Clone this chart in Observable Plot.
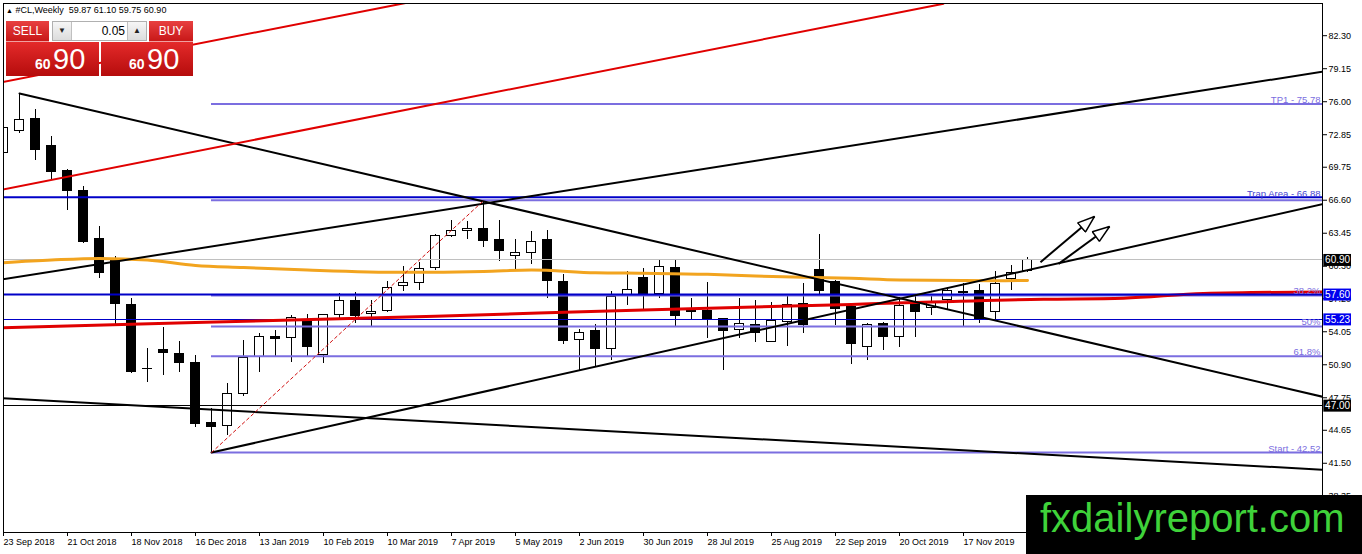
<!DOCTYPE html>
<html><head><meta charset="utf-8">
<script src="https://cdn.jsdelivr.net/npm/d3@7"></script>
<script src="https://cdn.jsdelivr.net/npm/@observablehq/plot@0.6"></script>
<style>
body{margin:0;background:#fff;}
#wrap{position:relative;width:1362px;height:554px;overflow:hidden;font-family:"Liberation Sans",Arial,sans-serif;}
#chart{position:absolute;left:0;top:0;}
#info{position:absolute;left:6px;top:5px;font-size:9px;color:#000;white-space:pre;line-height:11px;}
#info .tri{font-size:7px;}
.btn{position:absolute;top:21px;height:20px;background:linear-gradient(#e84040,#c81818);color:#fff;font-size:12px;text-align:center;line-height:20px;border-bottom:1px solid #f0a0a0;}
#sell{left:6px;width:43px;}
#buy{left:149px;width:44px;}
#spin{position:absolute;left:52px;top:21px;width:95px;height:20px;background:#e8e8e8;border:1px solid #b0b0b0;box-sizing:border-box;}
#spin .dn,#spin .up{position:absolute;top:0;width:18px;height:18px;font-size:8px;line-height:18px;text-align:center;color:#222;background:linear-gradient(#f6f6f6,#dcdcdc);}
#spin .dn{left:0;border-right:1px solid #c0c0c0;}
#spin .up{right:0;border-left:1px solid #c0c0c0;}
#spin .fld{position:absolute;left:19px;right:19px;top:0;height:18px;background:#fff;font-size:12px;line-height:18px;text-align:right;padding-right:2px;color:#000;}
.big{position:absolute;top:42px;height:34px;background:linear-gradient(#e42a2a,#b50c0c);color:#fff;}
#bigL{left:6px;width:93px;}
#bigR{left:101px;width:92px;}
.big .s{position:absolute;font-size:14px;font-weight:bold;line-height:14px;top:15px;}
.big .b{position:absolute;font-size:29px;line-height:29px;top:3px;}
#wm{position:absolute;left:1026px;top:495px;width:336px;height:59px;background:#000;}
#wm span{position:absolute;left:14px;top:3px;font-size:40px;line-height:40px;color:#3fd23a;white-space:nowrap;}
</style></head><body>
<div id="wrap">
<div id="chart"></div>
<div id="info"><span class="tri">▲</span> #CL,Weekly  59.87 61.10 59.75 60.90</div>
<div class="btn" id="sell">SELL</div>
<div id="spin"><div class="dn">▼</div><div class="fld">0.05</div><div class="up">▲</div></div>
<div class="btn" id="buy">BUY</div>
<div class="big" id="bigL"><span class="s" style="left:29px">60</span><span class="b" style="left:47px">90</span></div>
<div class="big" id="bigR"><span class="s" style="left:28px">60</span><span class="b" style="left:46px">90</span></div>
<div id="wm"><span>fxdailyreport.com</span></div>
</div>
<script>
// ---- weekly OHLC, bar index 0 = week of 23 Sep 2018 ----
const opens  = [71.14,73.17,74.38,71.80,69.35,67.51,62.93,60.83,56.63,50.53,52.34,51.93,51.07,45.31,45.06,48.11,51.60,53.58,53.45,55.04,51.83,55.65,57.01,55.74,56.06,58.42,58.70,60.10,63.19,63.63,63.88,62.81,61.28,61.57,62.83,58.83,53.26,54.15,52.40,57.49,59.21,57.65,60.13,56.06,56.06,55.27,54.25,54.72,53.10,54.94,56.70,59.97,58.76,56.37,52.56,54.79,53.51,56.70,56.32,57.08,57.87,57.90,55.90,59.08,59.87];
const highs  = [74.19,76.79,75.21,72.66,69.58,67.89,64.10,61.21,57.27,52.46,54.47,53.10,51.77,46.76,49.11,53.20,53.84,54.15,55.58,55.68,55.74,57.71,57.75,57.08,58.83,60.26,60.67,63.31,64.71,64.55,66.49,64.65,62.81,63.60,63.69,59.56,54.31,54.72,57.90,59.81,60.13,60.83,60.83,57.18,58.76,55.36,57.18,57.01,56.85,57.65,58.61,63.31,58.92,56.54,54.85,54.91,57.33,57.40,57.65,58.23,58.61,58.54,59.78,60.35,61.10];
const lows   = [70.75,72.92,70.37,68.56,65.60,62.48,59.14,54.63,50.02,49.22,49.86,50.17,44.92,42.52,44.13,47.85,50.17,51.67,51.13,51.67,51.03,55.36,54.85,54.53,55.90,57.90,58.03,59.94,63.00,62.86,62.10,60.76,59.88,60.45,57.18,52.88,50.40,50.65,51.29,56.54,56.15,57.18,54.47,55.11,53.45,50.40,53.45,53.03,52.98,52.65,53.84,57.42,54.63,50.91,51.29,52.24,52.56,53.51,55.58,56.13,54.47,54.85,55.11,57.97,59.75];
const closes = [73.52,74.26,71.36,69.26,67.44,62.64,59.69,56.66,50.17,50.46,51.99,51.03,45.25,44.92,48.11,51.51,53.58,53.32,55.32,52.56,55.68,57.01,55.58,55.96,58.23,58.70,60.04,63.22,63.69,63.86,62.67,61.72,61.59,62.61,58.86,53.20,53.93,52.40,57.33,58.03,57.59,60.19,55.52,55.92,55.17,54.15,54.79,53.89,55.04,56.63,54.69,57.90,56.25,52.88,54.69,53.51,56.54,55.90,56.76,57.90,57.71,55.27,58.61,59.62,60.90];

// ---- axes ----
const yTicks = [82.30,79.15,76.00,72.85,69.75,66.60,63.45,60.30,57.20,54.05,50.90,47.75,44.65,41.50,38.35];
const xTickIdx = [0,4,8,12,16,20,24,28,32,36,40,44,48,52,56,60];
const xTickLabels = ["23 Sep 2018","21 Oct 2018","18 Nov 2018","16 Dec 2018","13 Jan 2019","10 Feb 2019","10 Mar 2019","7 Apr 2019","5 May 2019","2 Jun 2019","30 Jun 2019","28 Jul 2019","25 Aug 2019","22 Sep 2019","20 Oct 2019","17 Nov 2019"];
const xDomain = [0, 82.4375];
const yDomain = [34.895, 85.372];

// ---- moving averages (sampled bars) ----
const orangeIdx = [0,3,6,9,12,15,19,25,30,33,37,40,44,47,53,56,62,64];
const orangeVal = [60.64,60.89,61.05,60.89,60.37,60.18,59.94,59.72,59.80,59.94,59.68,59.63,59.53,59.37,59.15,58.99,58.92,58.94];
const redIdx = [-0.19,12,27,40,53,65,70,75,82.44];
const redVal = [54.42,54.93,55.54,56.13,56.66,57.15,57.25,57.70,57.85];

// ---- horizontal levels ----
const bidPrice = 60.90;
const blackLevel = 47.00;
const blueThick = [66.88, 57.60];
const blueThin = [55.23];
const fibStartIdx = 13;
const fibLevels = [75.78, 66.60, 57.51, 54.56, 51.71, 42.52];
const fibLabelVal = [75.78, 57.51, 54.56, 51.71, 42.52];
const fibLabelText = ["TP1 - 75.78", "38.2%", "50%", "61.8%", "Start - 42.52"];
const trapLabelVal = [66.88];
const trapLabelText = ["Trap Area - 66.88"];
const blackBoxVal = [60.90, 47.00];
const blueBoxVal = [57.60, 55.23];

// ---- trend lines (bar index, price) ----
const trendHighFall = [{i:1,p:76.79},{i:82.44,p:47.85}];
const trendLeftRise = [{i:-0.19,p:59.02},{i:82.44,p:78.87}];
const trendLowRise  = [{i:13,p:42.52},{i:82.44,p:66.22}];
const trendLowFall  = [{i:-0.19,p:47.71},{i:82.44,p:40.89}];
const redChannelUp  = [{i:-0.19,p:77.84},{i:25.13,p:85.42}];
const redChannelLow = [{i:-0.19,p:67.58},{i:58.75,p:85.35}];
const fibBase       = [{i:13,p:42.52},{i:30,p:66.56}];
const arrowsData = [{i1:64.81,p1:60.69,i2:68.19,p2:65.05},{i1:65.94,p1:60.53,i2:69.13,p2:64.09}];

const candles = opens.map((o,i)=>({i, open:o, high:highs[i], low:lows[i], close:closes[i]}));
const upC = candles.filter(d=>d.close>=d.open);
const dnC = candles.filter(d=>d.close<d.open);
const orangeMA = orangeIdx.map((i,k)=>({i, p:orangeVal[k]}));
const redMA = redIdx.map((i,k)=>({i, p:redVal[k]}));

const violet = "#7b6ee0", blue = "#0000c8";
const ax = {x:"i", y:"p"};

function hollowHeads(index, scales, values, dimensions, context, next) {
  const g = next(index, scales, values, dimensions, context);
  const ns = "http://www.w3.org/2000/svg";
  const defs = document.createElementNS(ns, "defs");
  const m = document.createElementNS(ns, "marker");
  m.setAttribute("id", "hollowHead");
  m.setAttribute("markerUnits", "userSpaceOnUse");
  m.setAttribute("viewBox", "-1 -1 19 14");
  m.setAttribute("markerWidth", "19");
  m.setAttribute("markerHeight", "14");
  m.setAttribute("refX", "17");
  m.setAttribute("refY", "6");
  m.setAttribute("orient", "auto");
  const p = document.createElementNS(ns, "path");
  p.setAttribute("d", "M0,0L17,6L0,12Z");
  p.setAttribute("fill", "#fff");
  p.setAttribute("stroke", "#000");
  p.setAttribute("stroke-width", "1.5");
  m.appendChild(p); defs.appendChild(m);
  g.querySelectorAll("path").forEach(el => el.setAttribute("marker-end", "url(#hollowHead)"));
  g.insertBefore(defs, g.firstChild);
  return g;
}

const chart = Plot.plot({
  width: 1362, height: 554,
  marginLeft: 3, marginRight: 40, marginTop: 3, marginBottom: 22,
  x: {domain: xDomain},
  y: {domain: yDomain},
  style: {fontFamily: "'Liberation Sans', Arial, sans-serif", fontSize: "9px", color: "#000", background: "#fff"},
  marks: [
    Plot.ruleX(candles, {x:"i", y1:"low", y2:"high", stroke:"#000", strokeWidth:1, clip:true, shapeRendering:"crispEdges"}),
    Plot.rect(upC, {x1:d=>d.i-0.3, x2:d=>d.i+0.3, y1:"open", y2:"close", fill:"#fff", stroke:"#000", clip:true, shapeRendering:"crispEdges"}),
    Plot.rect(dnC, {x1:d=>d.i-0.3, x2:d=>d.i+0.3, y1:"open", y2:"close", fill:"#000", stroke:"#000", clip:true, shapeRendering:"crispEdges"}),
    Plot.ruleY([bidPrice], {stroke:"#c0c0c0", strokeWidth:1, shapeRendering:"crispEdges"}),
    Plot.ruleY([blackLevel], {stroke:"#000", strokeWidth:1, shapeRendering:"crispEdges"}),
    Plot.ruleY(fibLevels, {x1:fibStartIdx, x2:xDomain[1], stroke:violet, strokeWidth:2}),
    Plot.ruleY(blueThin, {stroke:blue, strokeWidth:1, shapeRendering:"crispEdges"}),
    Plot.line(redMA, {...ax, stroke:"#e00000", strokeWidth:3, curve:"monotone-x", clip:true}),
    Plot.ruleY(blueThick, {stroke:blue, strokeWidth:2}),
    Plot.line(orangeMA, {...ax, stroke:"#f2a41f", strokeWidth:3, curve:"monotone-x", clip:true}),
    Plot.line(trendHighFall, {...ax, stroke:"#000", strokeWidth:2, clip:true}),
    Plot.line(trendLeftRise, {...ax, stroke:"#000", strokeWidth:2, clip:true}),
    Plot.line(trendLowRise, {...ax, stroke:"#000", strokeWidth:2, clip:true}),
    Plot.line(trendLowFall, {...ax, stroke:"#000", strokeWidth:2, clip:true}),
    Plot.line(redChannelUp, {...ax, stroke:"#e00000", strokeWidth:2, clip:true}),
    Plot.line(redChannelLow, {...ax, stroke:"#e00000", strokeWidth:2, clip:true}),
    Plot.line(fibBase, {...ax, stroke:"#d01010", strokeWidth:1, strokeDasharray:"3,3", clip:true}),
    Plot.link(arrowsData, {x1:"i1", y1:"p1", x2:"i2", y2:"p2", stroke:"#000", strokeWidth:2, render: hollowHeads}),
    Plot.text(fibLabelVal, {x:xDomain[1], y:d=>d, text:(d,k)=>fibLabelText[k], textAnchor:"end", lineAnchor:"bottom", dx:-2, dy:-1, fill:violet, fontSize:9.5}),
    Plot.text(trapLabelVal, {x:xDomain[1], y:d=>d, text:(d,k)=>trapLabelText[k], textAnchor:"end", lineAnchor:"bottom", dx:-2, dy:0, fill:"#4646d2", fontSize:9.5}),
    Plot.frame({stroke:"#000", strokeWidth:1}),
    Plot.axisY({anchor:"right", ticks:yTicks, tickFormat:d=>d.toFixed(2), tickSize:4, tickPadding:2, fontSize:9}),
    Plot.axisX({ticks:xTickIdx, tickFormat:d=>xTickLabels[xTickIdx.indexOf(d)], textAnchor:"start", tickSize:4, tickPadding:2, fontSize:9}),
    Plot.ruleY(blackBoxVal, {x1:82.52, x2:84.25, stroke:"#000", strokeWidth:12}),
    Plot.ruleY(blueBoxVal, {x1:82.52, x2:84.25, stroke:"#0000ee", strokeWidth:12}),
    Plot.text(blackBoxVal.concat(blueBoxVal), {x:82.6, y:d=>d, text:d=>d.toFixed(2), textAnchor:"start", fill:"#fff", fontSize:10})
  ]
});
document.getElementById("chart").appendChild(chart);
</script>
</body></html>
